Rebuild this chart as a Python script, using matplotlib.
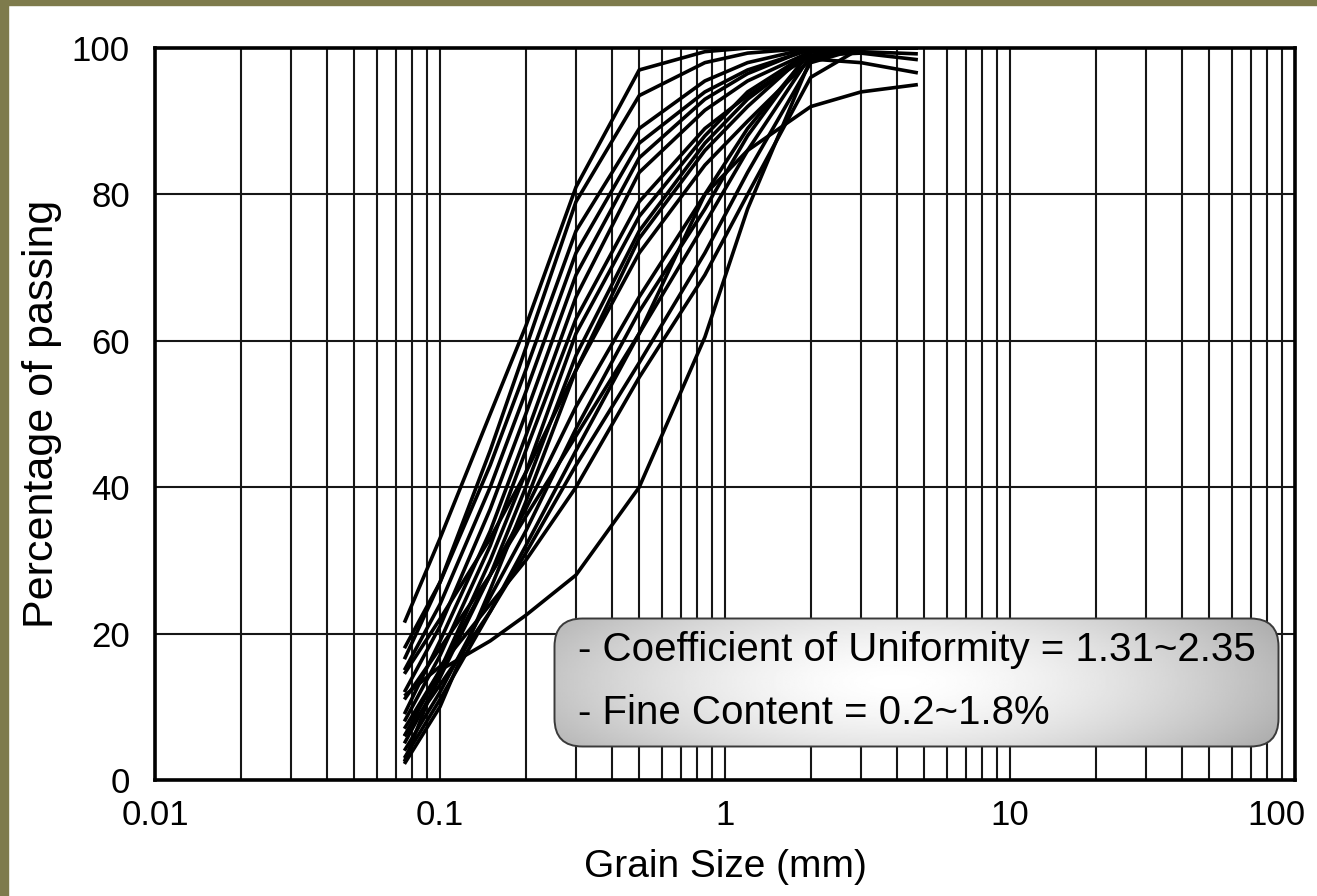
import matplotlib
matplotlib.use('Agg')
import matplotlib.pyplot as plt
import matplotlib.transforms as mtransforms
import numpy as np
from matplotlib.patches import FancyBboxPatch, Rectangle
from matplotlib.ticker import LogLocator, NullFormatter

plt.rcParams['font.family'] = ['Liberation Sans', 'DejaVu Sans']

# sieve openings (mm) and percent passing for each sample
sieve_mm = [0.075, 0.1, 0.15, 0.2, 0.3, 0.5, 0.85, 1.2, 2.0, 3.0, 4.75]

s01 = [21.5, 33, 50, 62, 81, 97, 99.5, 100, 100, 100, 100]
s02 = [16.5, 27, 45, 59, 79, 93.5, 98, 99.3, 100, 100, 100]
s03 = [18, 27, 43, 56, 75, 89, 95.5, 98, 100, 100, 100]
s04 = [15, 24, 40, 53, 72, 87, 94, 97, 99.8, 100, 100]
s05 = [12, 21, 37, 50, 69, 85, 93, 96.5, 100, 100, 100]
s06 = [9, 19, 34, 47, 66, 83, 91.5, 95.5, 99.5, 99.5, 99.2]
s07 = [8, 17, 32, 45, 63, 79, 89, 93.5, 99, 99.3, 98.4]
s08 = [6, 15, 30, 42, 61, 77, 88, 94, 99.5, 100, 100]
s09 = [5, 14, 28, 40, 58, 75, 87, 93, 99.5, 100, 100]
s10 = [14.5, 22, 33, 42, 56, 72, 84, 90, 98.5, 98, 96.6]
s11 = [7, 15, 28, 37, 51, 66, 80, 89, 99.5, 100, 100]
s12 = [4, 12, 25, 34, 48, 64, 78, 88, 99.8, 100, 100]
s13 = [3, 11, 23, 32, 45, 61, 76, 86, 99, 100, 100]
s14 = [11, 18, 28, 36, 47, 61, 80, 86, 92, 94, 95]
s15 = [11.5, 15.5, 24, 30, 40, 55, 69, 80, 96, 100, 100]
s16 = [6, 13, 23, 31, 43, 57, 72, 83, 98, 100, 100]
s17 = [2.5, 15, 19, 22.5, 28, 40, 60.5, 78, 98.5, 100, 100]
s18 = [2.2, 10, 26, 38, 56, 74, 86, 92, 99.8, 100, 100]

samples = [s01, s02, s03, s04, s05, s06, s07, s08, s09,
           s10, s11, s12, s13, s14, s15, s16, s17, s18]

x_ticks = [0.01, 0.1, 1, 10, 100]
x_tick_labels = ['0.01', '0.1', '1', '10', '100']
y_ticks = [0, 20, 40, 60, 80, 100]

W, H = 1317, 896
fig = plt.figure(figsize=(W / 100, H / 100), dpi=100)
fig.patch.set_facecolor('white')

# olive frame on the left and top edge
olive = '#7e7b4c'
fig.patches.append(Rectangle((0, 0), 8 / W, 1, transform=fig.transFigure,
                             color=olive, zorder=0))
fig.patches.append(Rectangle((0, 1 - 5 / H), 1, 5 / H, transform=fig.transFigure,
                             color=olive, zorder=0))

ax = fig.add_axes([155 / W, 116 / H, 1140 / W, 732 / H])

for s in samples:
    ax.plot(sieve_mm, s, color='black', lw=2.6, solid_joinstyle='round',
            solid_capstyle='butt', zorder=3)

ax.set_xscale('log')
ax.set_xlim(0.01, 100)
ax.set_ylim(0, 100)
ax.set_xticks(x_ticks)
ax.set_xticklabels(x_tick_labels)
ax.set_yticks(y_ticks)
ax.xaxis.set_minor_locator(LogLocator(base=10, subs=range(2, 10)))
ax.xaxis.set_minor_formatter(NullFormatter())

ax.grid(which='both', axis='x', color='#161616', lw=1.5, zorder=1)
ax.grid(which='major', axis='y', color='#161616', lw=1.5, zorder=1)
ax.set_axisbelow(True)

ax.tick_params(which='both', length=0)
ax.tick_params(axis='y', labelsize=25, pad=18)
ax.tick_params(axis='x', labelsize=25, pad=14)
for sp in ax.spines.values():
    sp.set_linewidth(2.6)
    sp.set_zorder(5)

# keep the last x label inside the figure
last = ax.get_xticklabels()[-1]
last.set_horizontalalignment('right')
last.set_transform(last.get_transform() +
                   mtransforms.ScaledTranslation(0.10, 0, fig.dpi_scale_trans))

ax.set_xlabel('Grain Size (mm)', fontsize=28)
ax.set_ylabel('Percentage of passing', fontsize=31)
ax.xaxis.set_label_coords(0.5, -0.094)
ax.yaxis.set_label_coords(-0.0816, 0.5)

# summary box with a soft grey gradient
bw, bh = 727, 131
bax = fig.add_axes([553 / W, (H - 748) / H, bw / W, bh / H])
bax.set_xlim(0, bw)
bax.set_ylim(0, bh)
bax.axis('off')

gx, gy = np.meshgrid(np.linspace(0, bw, 400), np.linspace(0, bh, 100))
r = np.sqrt(((gx - 0.47 * bw) / (0.5 * bw)) ** 2 + 0.35 * ((gy - 0.5 * bh) / (0.5 * bh)) ** 2)
shade = np.clip(1.0 - 0.25 * r ** 1.6, 0, 1)

box = FancyBboxPatch((1.5, 1.5), bw - 3, bh - 3,
                     boxstyle='round,pad=0,rounding_size=28',
                     fc='none', ec='#3a3a3a', lw=1.4, zorder=3)
bax.add_patch(box)
im = bax.imshow(shade, cmap='gray', vmin=0, vmax=1, extent=(0, bw, 0, bh),
                aspect='auto', origin='lower', zorder=2)
im.set_clip_path(box)

bax.text(25, 98, '- Coefficient of Uniformity = 1.31~2.35', fontsize=29,
         va='center', ha='left', zorder=4)
bax.text(25, 35, '- Fine Content = 0.2~1.8%', fontsize=29,
         va='center', ha='left', zorder=4)

fig.savefig('out.png', dpi=100)
